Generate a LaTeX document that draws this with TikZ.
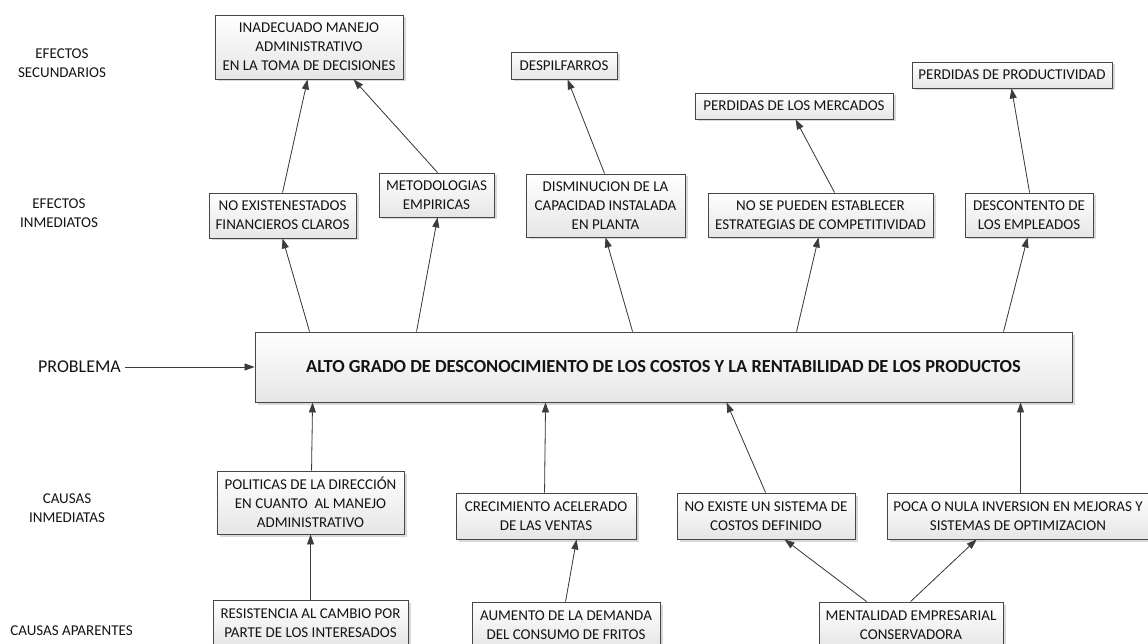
\documentclass[tikz,border=0pt]{standalone}
\usepackage{fontspec}
\setmainfont{Carlito}
\usetikzlibrary{arrows.meta,shadows}
\definecolor{boxline}{HTML}{464646}
\definecolor{boxfill}{HTML}{E6E6E6}
\definecolor{arrowline}{HTML}{3C3C3C}
\definecolor{ink}{HTML}{141414}

\begin{document}
\begin{tikzpicture}[x=1pt,y=-1pt,
  box/.style={draw=boxline, line width=0.9pt, top color=white, bottom color=boxfill,
    inner sep=0pt, align=center, text=ink, font=\fontsize{15}{19}\selectfont,
    drop shadow={shadow xshift=2.5pt, shadow yshift=-2.5pt, fill=black, opacity=0.15}},
  lvl/.style={align=center, text=ink, font=\fontsize{15}{19}\selectfont, inner sep=0pt},
  arr/.style={draw=arrowline, line width=0.8pt, -{Triangle[length=10pt,width=7pt]}, fill=arrowline}
]
\useasboundingbox (0,0) rectangle (1148,644);
\clip (0,0) rectangle (1148,644);

% level labels
\node[lvl] (lsec) at (62,63) {EFECTOS\\SECUNDARIOS};
\node[lvl] (limm) at (59,213) {EFECTOS\\INMEDIATOS};
\node[lvl, font=\fontsize{18}{22}\selectfont] (lprob) at (79.5,367) {PROBLEMA};
\node[lvl] (lcau) at (67,508) {CAUSAS\\INMEDIATAS};
\node[lvl] (lapa) at (71.5,631) {CAUSAS APARENTES};

% secondary effects
\node[box, minimum width=188pt, minimum height=64pt] (sec1) at (309,47)
  {INADECUADO MANEJO\\ADMINISTRATIVO\\EN LA TOMA DE DECISIONES};
\node[box, minimum width=106pt, minimum height=27pt] (sec2) at (564,65.5) {DESPILFARROS};
\node[box, minimum width=198pt, minimum height=26pt] (sec3) at (794,106) {PERDIDAS DE LOS MERCADOS};
\node[box, minimum width=200pt, minimum height=26pt] (sec4) at (1012,75) {PERDIDAS DE PRODUCTIVIDAD};

% immediate effects
\node[box, minimum width=147pt, minimum height=45pt] (imm1) at (282.5,215.5)
  {NO EXISTENESTADOS\\FINANCIEROS CLAROS};
\node[box, minimum width=115pt, minimum height=44pt] (imm2) at (436.5,195)
  {METODOLOGIAS\\EMPIRICAS};
\node[box, minimum width=159pt, minimum height=63pt] (imm3) at (605.5,205.5)
  {DISMINUCION DE LA\\CAPACIDAD INSTALADA\\EN PLANTA};
\node[box, minimum width=225pt, minimum height=44pt] (imm4) at (820.5,215)
  {NO SE PUEDEN ESTABLECER\\ESTRATEGIAS DE COMPETITIVIDAD};
\node[box, minimum width=128pt, minimum height=44pt] (imm5) at (1029,215)
  {DESCONTENTO DE\\LOS EMPLEADOS};

% central problem
\node[box, minimum width=817pt, minimum height=70pt, font=\fontsize{18.4}{22}\selectfont\bfseries] (main) at (663.5,367)
  {ALTO GRADO DE DESCONOCIMIENTO DE LOS COSTOS Y LA RENTABILIDAD DE LOS PRODUCTOS};

% immediate causes
\node[box, minimum width=187pt, minimum height=63pt] (cau1) at (310.5,502.5)
  {POLITICAS DE LA DIRECCIÓN\\EN CUANTO~ AL MANEJO\\ADMINISTRATIVO};
\node[box, minimum width=180pt, minimum height=46pt] (cau2) at (546,516)
  {CRECIMIENTO ACELERADO\\DE LAS VENTAS};
\node[box, minimum width=178pt, minimum height=46pt] (cau3) at (766,516)
  {NO EXISTE UN SISTEMA DE\\COSTOS DEFINIDO};
\node[box, minimum width=262pt, minimum height=46pt] (cau4) at (1018,516)
  {POCA O NULA INVERSION EN MEJORAS Y\\SISTEMAS DE OPTIMIZACION};

% apparent causes
\node[box, minimum width=195pt, minimum height=47pt] (apa1) at (310.5,623.5)
  {RESISTENCIA AL CAMBIO POR\\PARTE DE LOS INTERESADOS};
\node[box, minimum width=188pt, minimum height=46pt] (apa2) at (566,625)
  {AUMENTO DE LA DEMANDA\\DEL CONSUMO DE FRITOS};
\node[box, minimum width=184pt, minimum height=46pt] (apa3) at (911,625)
  {MENTALIDAD EMPRESARIAL\\CONSERVADORA};

% problem label
\draw[arr] (lprob.east) ++(4pt,0) -- (main.west);

% problem -> immediate effects
\draw[arr] ([xshift=55pt]main.north west) -- ([xshift=74pt]imm1.south west);
\draw[arr] ([xshift=162pt]main.north west) -- ([xshift=59pt]imm2.south west);
\draw[arr] ([xshift=378pt]main.north west) -- ([xshift=80pt]imm3.south west);
\draw[arr] ([xshift=542pt]main.north west) -- ([xshift=111pt]imm4.south west);
\draw[arr] ([xshift=749pt]main.north west) -- ([xshift=63pt]imm5.south west);

% immediate -> secondary effects
\draw[arr] ([xshift=74pt]imm1.north west) -- ([xshift=93pt]sec1.south west);
\draw[arr] ([xshift=59pt]imm2.north west) -- ([xshift=139pt]sec1.south west);
\draw[arr] ([xshift=79pt]imm3.north west) -- ([xshift=57pt]sec2.south west);
\draw[arr] ([xshift=127pt]imm4.north west) -- ([xshift=101pt]sec3.south west);
\draw[arr] ([xshift=65pt]imm5.north west) -- ([xshift=100pt]sec4.south west);

% immediate causes -> problem
\draw[arr] ([xshift=95pt]cau1.north west) -- ([xshift=58pt]main.south west);
\draw[arr] ([xshift=89pt]cau2.north west) -- ([xshift=291pt]main.south west);
\draw[arr] ([xshift=89pt]cau3.north west) -- ([xshift=472pt]main.south west);
\draw[arr] ([xshift=134pt]cau4.north west) -- ([xshift=766pt]main.south west);

% apparent -> immediate causes
\draw[arr] ([xshift=98pt]apa1.north west) -- ([xshift=94pt]cau1.south west);
\draw[arr] ([xshift=94pt]apa2.north west) -- ([xshift=121pt]cau2.south west);
\draw[arr] ([xshift=48pt]apa3.north west) -- ([xshift=108pt]cau3.south west);
\draw[arr] ([xshift=92pt]apa3.north west) -- ([xshift=90pt]cau4.south west);
\end{tikzpicture}
\end{document}
